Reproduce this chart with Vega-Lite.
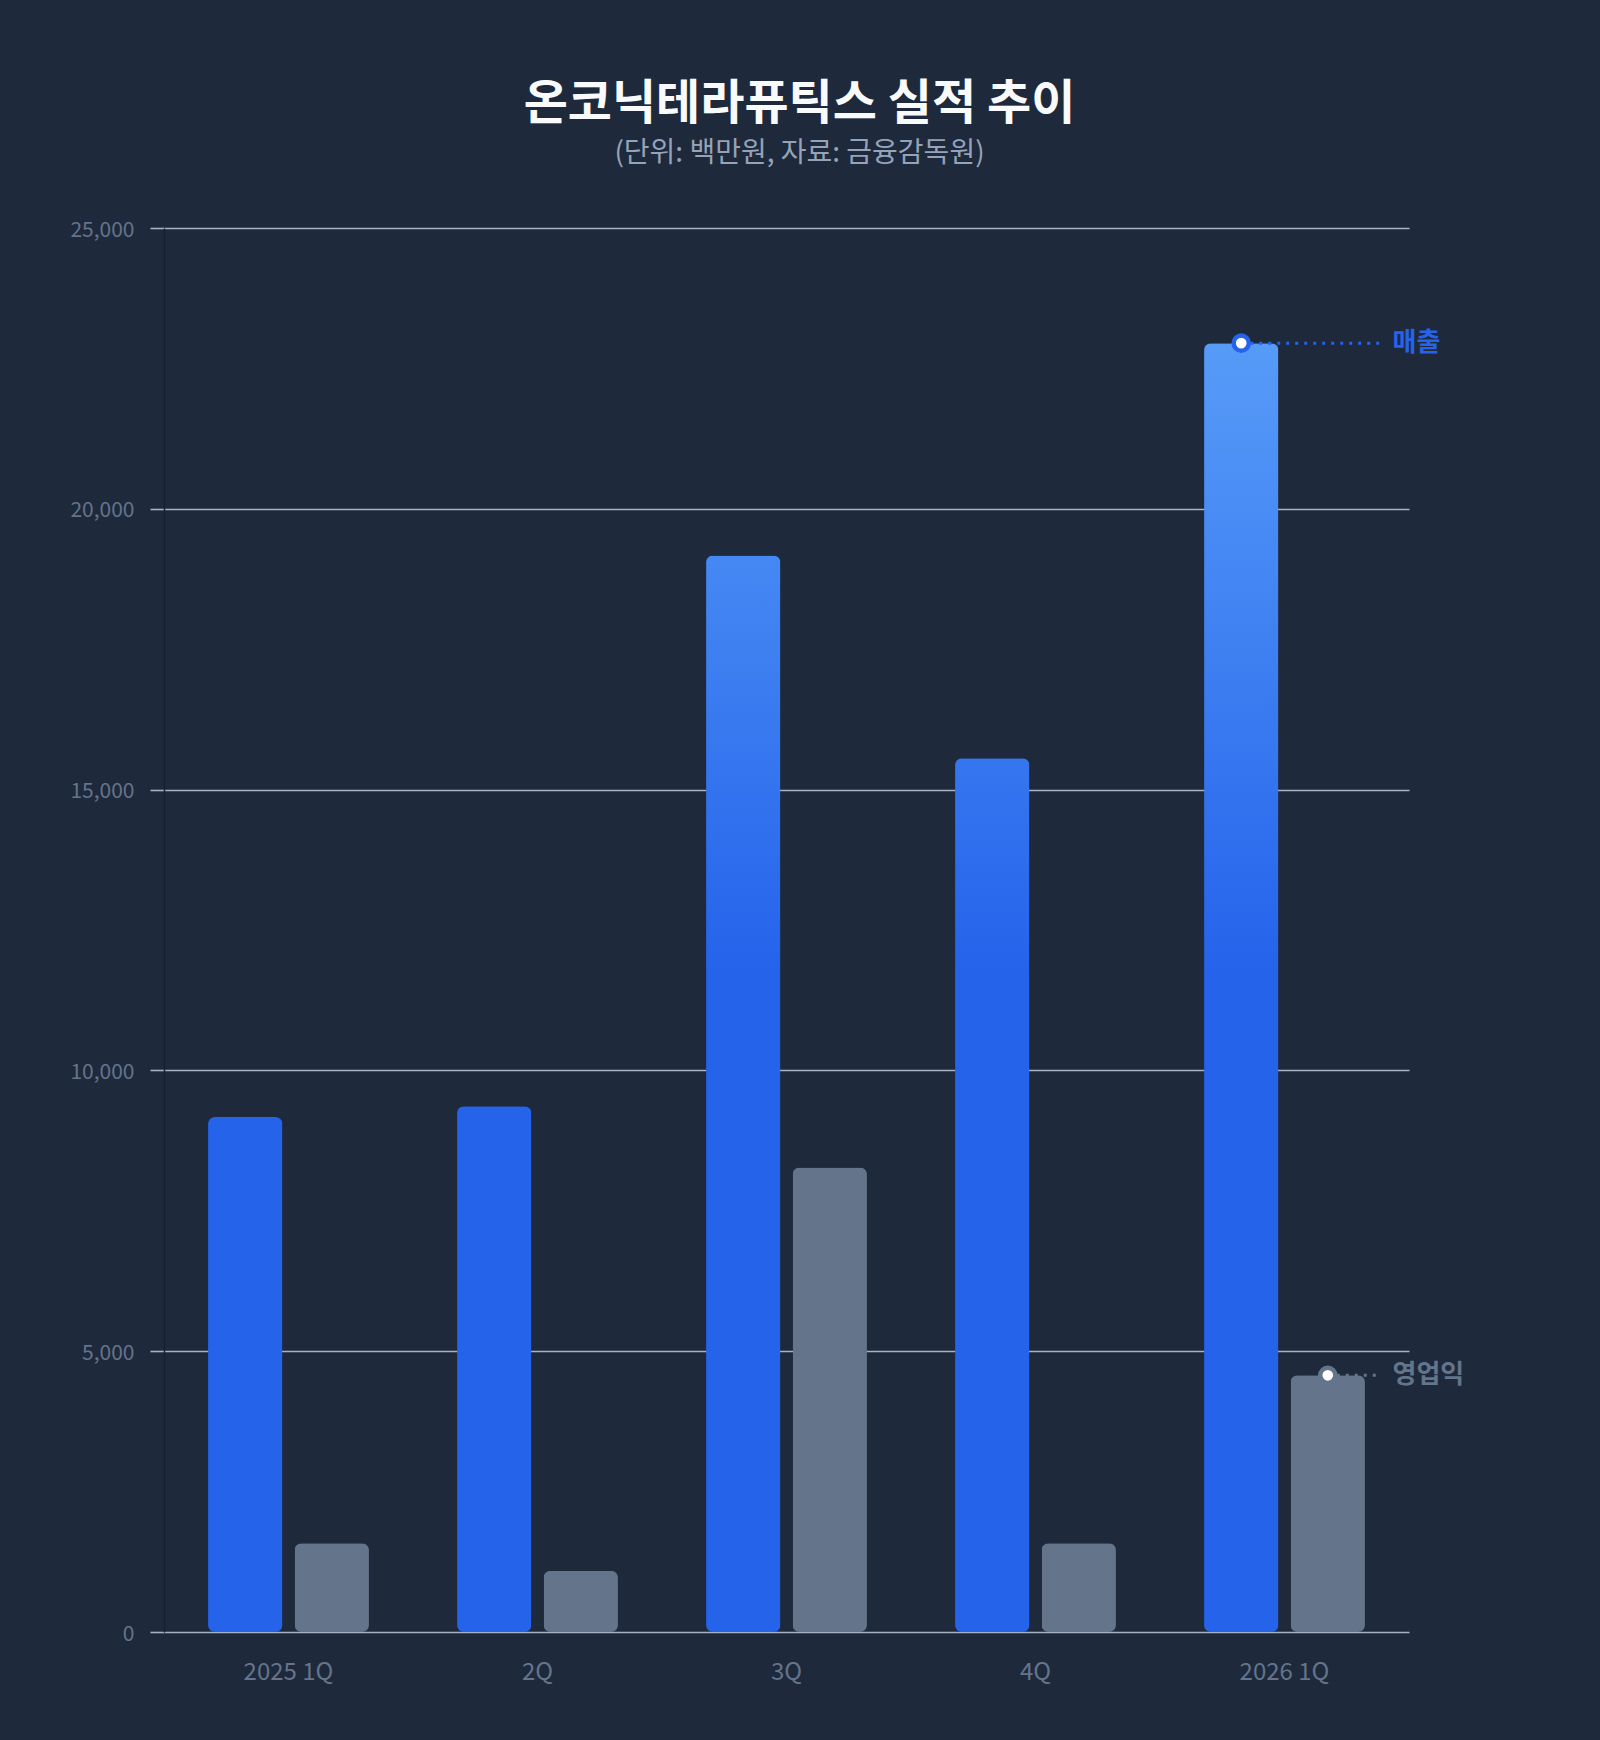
{
  "$schema": "https://vega.github.io/schema/vega-lite/v6.json",
  "background": "#1e293b",
  "autosize": {"type": "none"},
  "padding": {"left": 164, "top": 228, "right": 191, "bottom": 108},
  "width": 1245,
  "height": 1404,
  "config": {
    "font": "Noto Sans CJK KR",
    "view": {"stroke": null}
  },
  "title": {
    "text": "온코닉테라퓨틱스 실적 추이",
    "subtitle": "(단위: 백만원, 자료: 금융감독원)",
    "anchor": "middle",
    "frame": "group",
    "dx": 13,
    "offset": 51,
    "fontSize": 48,
    "fontWeight": "bold",
    "color": "#f8fafc",
    "subtitleFontSize": 28,
    "subtitleColor": "#94a3b8",
    "subtitlePadding": 11,
    "font": "Noto Sans CJK KR",
    "subtitleFont": "Noto Sans CJK KR"
  },
  "data": {
    "values": [
      {"quarter": "2025 1Q", "series": "매출", "value": 9170},
      {"quarter": "2025 1Q", "series": "영업익", "value": 1580},
      {"quarter": "2Q", "series": "매출", "value": 9360},
      {"quarter": "2Q", "series": "영업익", "value": 1090},
      {"quarter": "3Q", "series": "매출", "value": 19170},
      {"quarter": "3Q", "series": "영업익", "value": 8270},
      {"quarter": "4Q", "series": "매출", "value": 15560},
      {"quarter": "4Q", "series": "영업익", "value": 1580},
      {"quarter": "2026 1Q", "series": "매출", "value": 22950},
      {"quarter": "2026 1Q", "series": "영업익", "value": 4570}
    ]
  },
  "encoding": {
    "x": {
      "field": "quarter",
      "type": "nominal",
      "sort": ["2025 1Q", "2Q", "3Q", "4Q", "2026 1Q"],
      "scale": {"paddingInner": 0, "paddingOuter": 0},
      "axis": {
        "title": null,
        "labelAngle": 0,
        "labelFontSize": 24,
        "labelColor": "#64748b",
        "labelPadding": 28,
        "ticks": false,
        "domain": false
      }
    },
    "y": {
      "field": "value",
      "type": "quantitative",
      "scale": {"domain": [0, 25000], "nice": false},
      "axis": {
        "title": null,
        "values": [0, 5000, 10000, 15000, 20000, 25000],
        "format": ",d",
        "labelFontSize": 21,
        "labelColor": "#64748b",
        "labelPadding": 16,
        "labelOffset": 2,
        "tickSize": 14,
        "tickColor": "#a8b3c2",
        "tickWidth": 1.6,
        "gridColor": "#a8b3c2",
        "gridWidth": 1.6,
        "domainColor": "#172033",
        "domainWidth": 1.5
      }
    }
  },
  "layer": [
    {
      "mark": {"type": "bar", "cornerRadius": 7},
      "encoding": {
        "xOffset": {
          "field": "series",
          "type": "nominal",
          "sort": ["매출", "영업익"],
          "scale": {"paddingInner": 0.141, "paddingOuter": 0.509}
        },
        "fill": {
          "condition": [
            {
              "test": "datum.series == '매출' && datum.quarter == '3Q'",
              "value": {
                "gradient": "linear", "x1": 0, "y1": 0, "x2": 0, "y2": 1,
                "stops": [
                  {"offset": 0, "color": "#4688f3"},
                  {"offset": 0.384, "color": "#2563eb"},
                  {"offset": 1, "color": "#2563eb"}
                ]
              }
            },
            {
              "test": "datum.series == '매출' && datum.quarter == '4Q'",
              "value": {
                "gradient": "linear", "x1": 0, "y1": 0, "x2": 0, "y2": 1,
                "stops": [
                  {"offset": 0, "color": "#3676ef"},
                  {"offset": 0.242, "color": "#2563eb"},
                  {"offset": 1, "color": "#2563eb"}
                ]
              }
            },
            {
              "test": "datum.series == '매출' && datum.quarter == '2026 1Q'",
              "value": {
                "gradient": "linear", "x1": 0, "y1": 0, "x2": 0, "y2": 1,
                "stops": [
                  {"offset": 0, "color": "#579bf8"},
                  {"offset": 0.486, "color": "#2563eb"},
                  {"offset": 1, "color": "#2563eb"}
                ]
              }
            }
          ],
          "field": "series",
          "type": "nominal",
          "scale": {"domain": ["매출", "영업익"], "range": ["#2563eb", "#64748b"]},
          "legend": null
        }
      }
    },
    {
      "transform": [{"filter": "datum.quarter == '2026 1Q'"}],
      "mark": {"type": "rule", "strokeDash": [3, 6], "strokeWidth": 3, "x2Offset": 96},
      "encoding": {
        "xOffset": {
          "field": "series",
          "type": "nominal",
          "sort": ["매출", "영업익"],
          "scale": {"paddingInner": 0.141, "paddingOuter": 0.509}
        },
        "x2": {"field": "quarter"},
        "color": {
          "field": "series",
          "type": "nominal",
          "scale": {"domain": ["매출", "영업익"], "range": ["#2563eb", "#64748b"]},
          "legend": null
        }
      }
    },
    {
      "transform": [{"filter": "datum.quarter == '2026 1Q'"}],
      "mark": {"type": "point", "filled": false, "fill": "#ffffff", "size": 230, "strokeWidth": 4.5, "opacity": 1},
      "encoding": {
        "xOffset": {
          "field": "series",
          "type": "nominal",
          "sort": ["매출", "영업익"],
          "scale": {"paddingInner": 0.141, "paddingOuter": 0.509}
        },
        "stroke": {
          "field": "series",
          "type": "nominal",
          "scale": {"domain": ["매출", "영업익"], "range": ["#2563eb", "#64748b"]},
          "legend": null
        }
      }
    },
    {
      "transform": [{"filter": "datum.quarter == '2026 1Q'"}],
      "mark": {"type": "text", "align": "left", "baseline": "middle", "dx": 108, "fontSize": 26, "fontWeight": "bold"},
      "encoding": {
        "text": {"field": "series"},
        "color": {
          "field": "series",
          "type": "nominal",
          "scale": {"domain": ["매출", "영업익"], "range": ["#2563eb", "#64748b"]},
          "legend": null
        }
      }
    }
  ]
}
